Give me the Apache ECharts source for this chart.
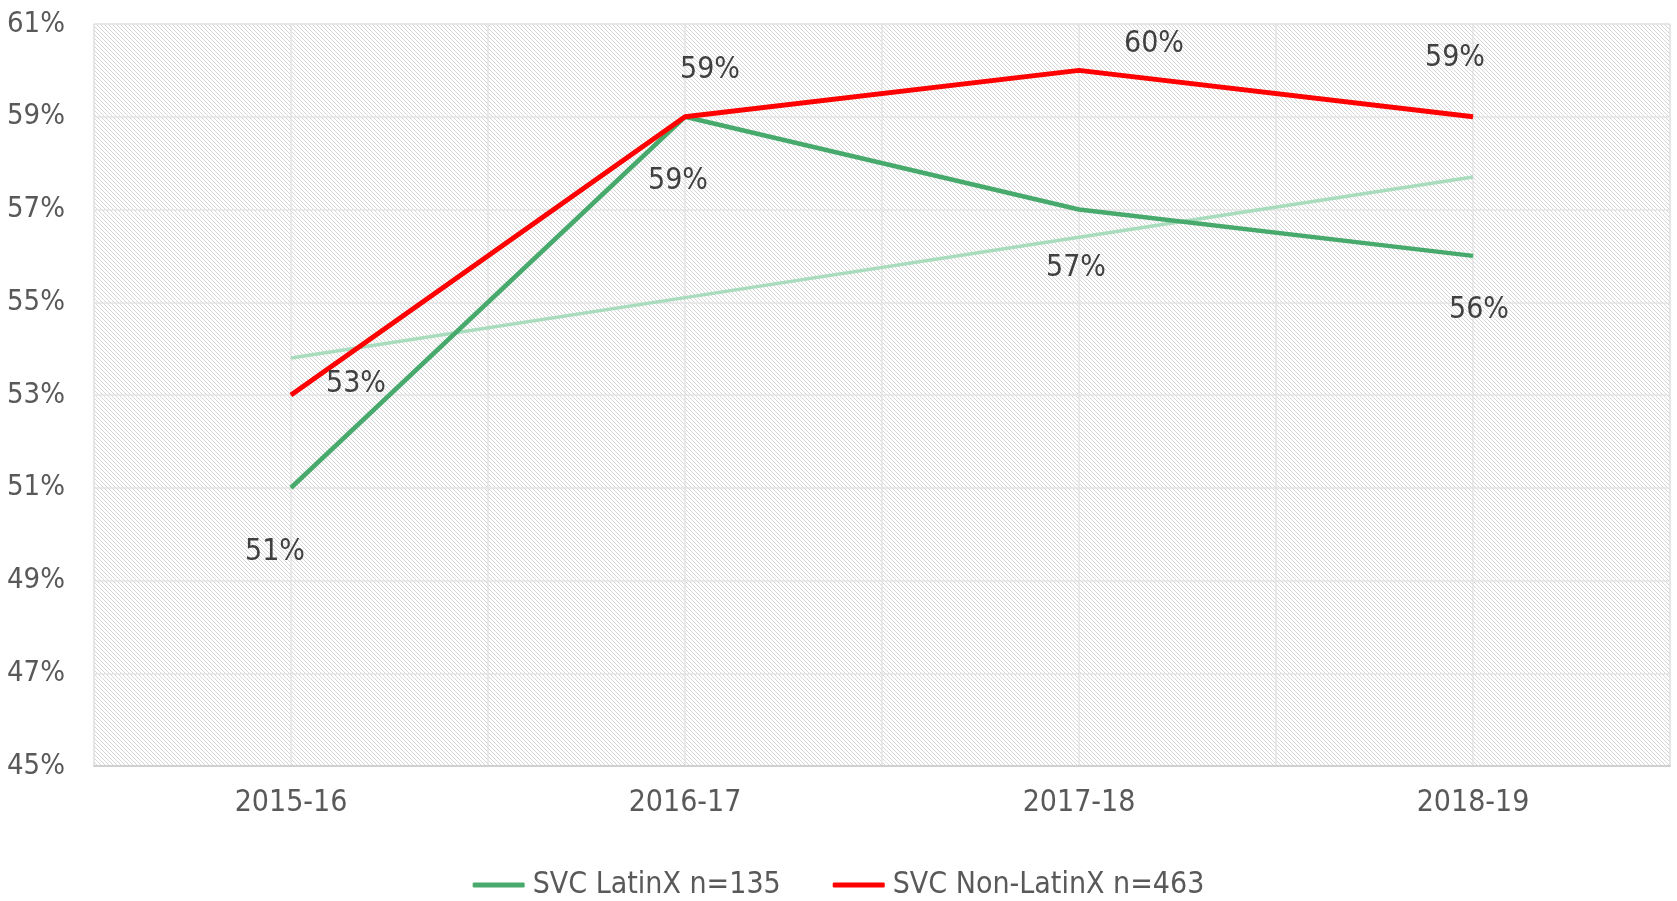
<!DOCTYPE html>
<html>
<head>
<meta charset="utf-8">
<script src="https://cdn.jsdelivr.net/npm/echarts@6/dist/echarts.min.js"></script>
<style>
  html, body { margin: 0; padding: 0; background: #fff; }
  #main { width: 1677px; height: 901px; }
</style>
</head>
<body>
<div id="main"></div>
<script>
var years = ['2015-16', '2016-17', '2017-18', '2018-19'];
var latinx = [51, 59, 57, 56];
var nonLatinx = [53, 59, 60, 59];
var latinxTrend = [53.8, 55.1, 56.4, 57.7];
var yTicks = [45, 47, 49, 51, 53, 55, 57, 59, 61];

// label offsets (px) from each point
var latinxLabelOffset = [[-16, 64], [-7, 64], [-3, 59], [6, 54]];
var nonLatinxLabelOffset = [[65, -11], [25, -47], [75, -26], [-18, -59]];

var font = "'DejaVu Sans Condensed', 'DejaVu Sans', sans-serif";

// diagonal hatch used as plot background
var hatch = document.createElement('canvas');
hatch.width = 4;
hatch.height = 4;
var hctx = hatch.getContext('2d');
hctx.fillStyle = '#ffffff';
hctx.fillRect(0, 0, 4, 4);
hctx.fillStyle = '#d6d6d6';
for (var i = 0; i < 4; i++) {
    hctx.fillRect(i, i, 1, 1);
}

function withLabels(values, offsets) {
    return values.map(function (v, i) {
        return { value: v, label: { offset: offsets[i] } };
    });
}

var chartDom = document.getElementById('main');
var myChart = echarts.init(chartDom);
var option;

var dataLabel = {
    show: true,
    position: 'inside',
    formatter: '{c}%',
    fontFamily: font,
    fontSize: 30,
    color: '#404040'
};

option = {
    animation: false,
    textStyle: { fontFamily: font },
    grid: {
        left: 94,
        right: 7,
        top: 24,
        bottom: 135,
        show: true,
        backgroundColor: { image: hatch, repeat: 'repeat' },
        borderColor: '#e0e0e0',
        borderWidth: 1
    },
    legend: {
        data: ['SVC LatinX n=135', 'SVC Non-LatinX n=463'],
        bottom: -4,
        left: 'center',
        icon: 'roundRect',
        itemWidth: 52,
        itemHeight: 5,
        itemGap: 52,
        textStyle: { fontFamily: font, fontSize: 30, color: '#595959', padding: [0, 0, 0, 3] }
    },
    xAxis: [
        {
            type: 'category',
            data: years,
            boundaryGap: true,
            axisLine: { lineStyle: { color: '#d0d0d0', width: 2 } },
            axisTick: { show: false },
            splitLine: { show: false },
            axisLabel: { fontFamily: font, fontSize: 30, color: '#595959', margin: 22 }
        },
        {
            type: 'value',
            min: 0,
            max: 8,
            interval: 1,
            show: true,
            position: 'bottom',
            axisLine: { show: false },
            axisTick: { show: false },
            axisLabel: { show: false },
            splitLine: { show: true, lineStyle: { color: '#e3e3e3', width: 1.5 } }
        }
    ],
    yAxis: {
        type: 'value',
        min: yTicks[0],
        max: yTicks[yTicks.length - 1],
        interval: 2,
        axisLine: { show: false },
        axisTick: { show: false },
        axisLabel: {
            fontFamily: font,
            fontSize: 29,
            color: '#595959',
            margin: 29,
            formatter: '{value}%'
        },
        splitLine: { show: true, lineStyle: { color: '#e3e3e3', width: 1.5 } }
    },
    series: [
        {
            name: 'trend',
            type: 'line',
            data: latinxTrend,
            symbol: 'none',
            z: 1,
            lineStyle: { color: '#a8dcbc', width: 3.5 },
            silent: true
        },
        {
            name: 'SVC LatinX n=135',
            type: 'line',
            data: withLabels(latinx, latinxLabelOffset),
            symbol: 'circle',
            symbolSize: 1,
            showSymbol: true,
            z: 3,
            itemStyle: { color: '#47aa6c' },
            lineStyle: { color: '#47aa6c', width: 4.5 },
            label: dataLabel
        },
        {
            name: 'SVC Non-LatinX n=463',
            type: 'line',
            data: withLabels(nonLatinx, nonLatinxLabelOffset),
            symbol: 'circle',
            symbolSize: 1,
            showSymbol: true,
            z: 4,
            itemStyle: { color: '#ff0000' },
            lineStyle: { color: '#ff0000', width: 5 },
            label: dataLabel
        }
    ]
};

option && myChart.setOption(option);
</script>
</body>
</html>
